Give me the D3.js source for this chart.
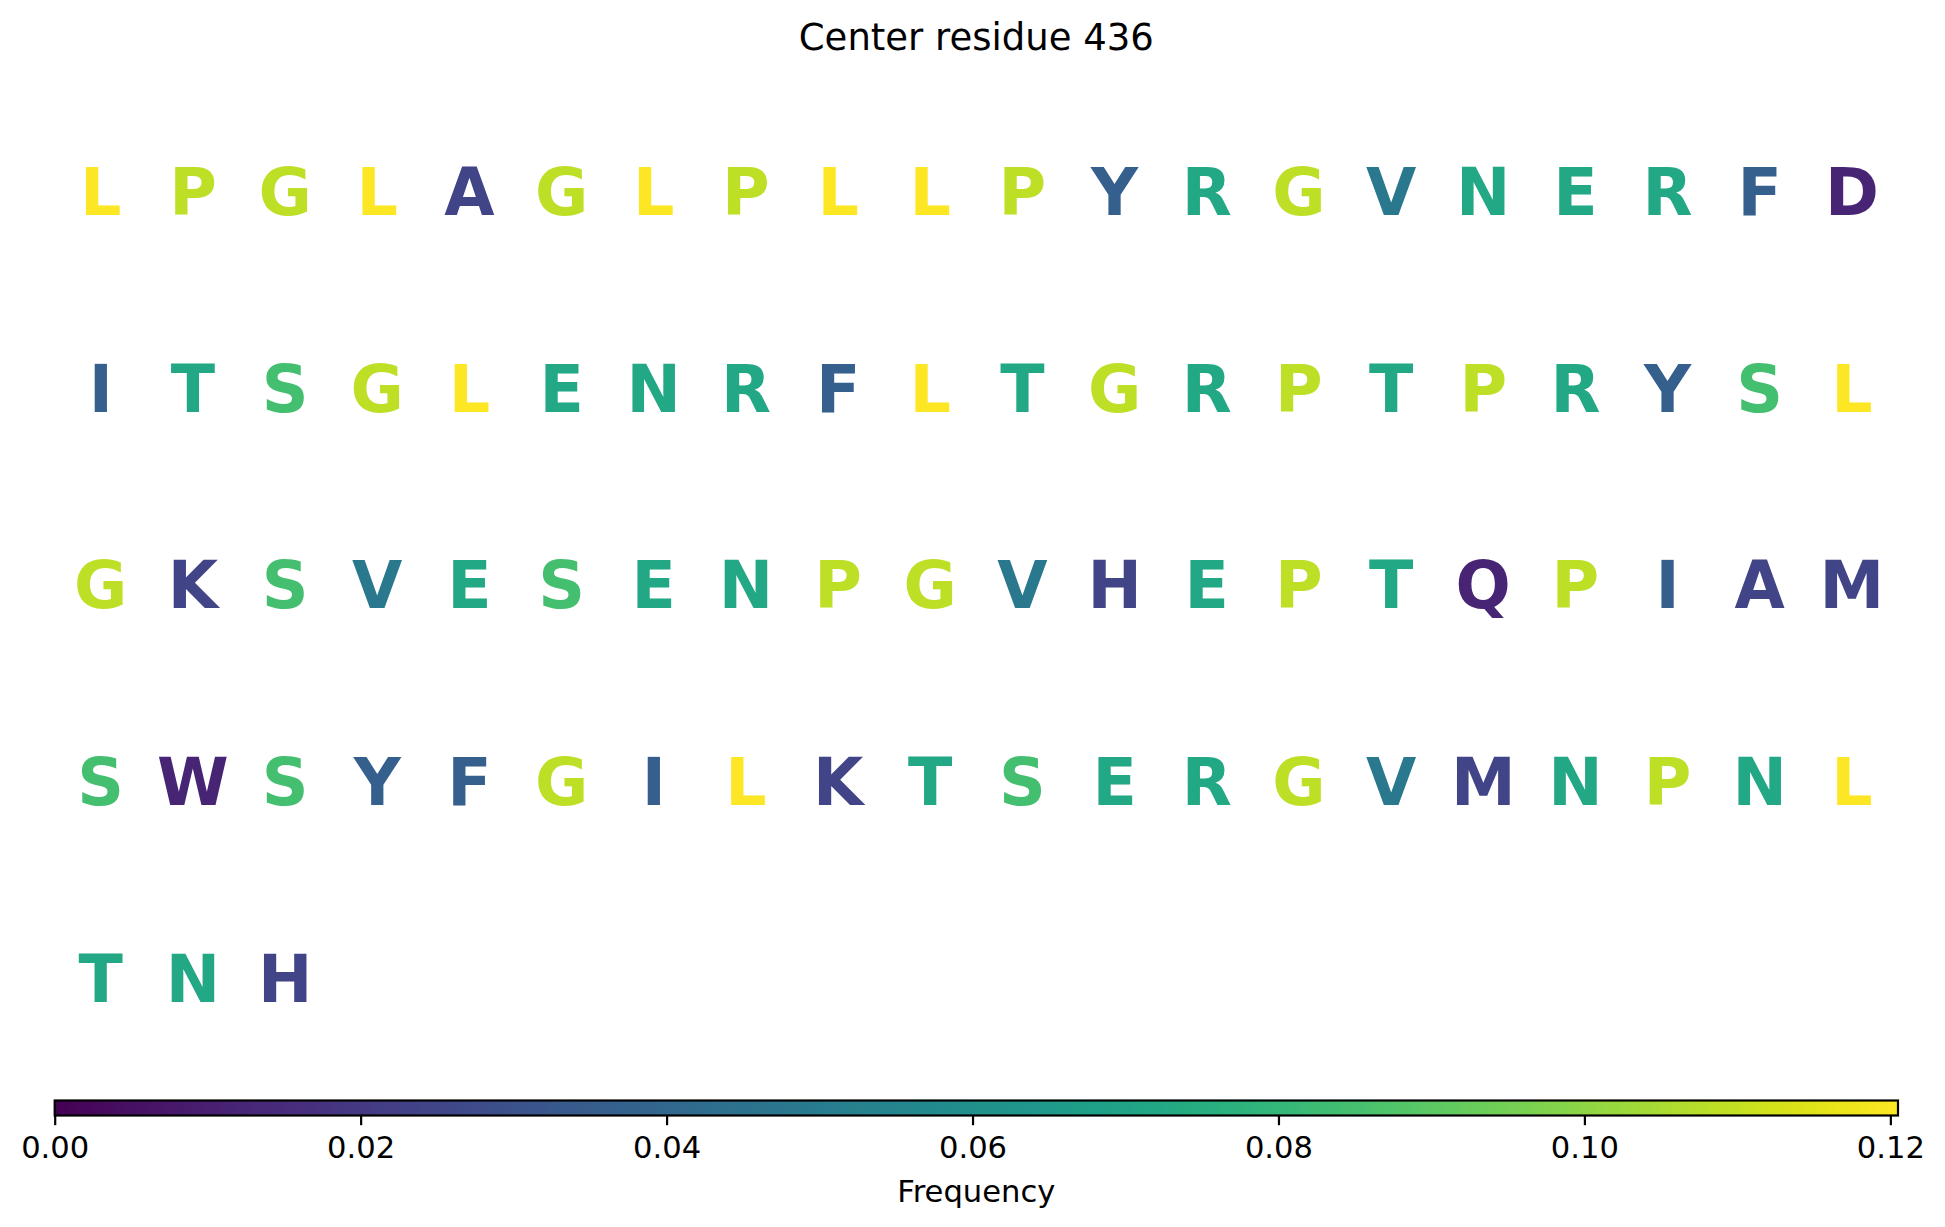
<!DOCTYPE html>
<html>
<head>
<meta charset="utf-8">
<script src="https://cdn.jsdelivr.net/npm/d3@7"></script>
<style>
  html, body { margin: 0; padding: 0; background: #fff; }
  svg { display: block; }
  text { font-family: "DejaVu Sans", sans-serif; }
</style>
</head>
<body>
<script>
// ---- Data ----
const titleText = "Center residue 436";
const residueRows = [
  ["L","P","G","L","A","G","L","P","L","L","P","Y","R","G","V","N","E","R","F","D"],
  ["I","T","S","G","L","E","N","R","F","L","T","G","R","P","T","P","R","Y","S","L"],
  ["G","K","S","V","E","S","E","N","P","G","V","H","E","P","T","Q","P","I","A","M"],
  ["S","W","S","Y","F","G","I","L","K","T","S","E","R","G","V","M","N","P","N","L"],
  ["T","N","H"]
];
const aminoAcids  = ["L", "P", "G", "A", "Y", "R", "V", "N", "E", "F", "D", "I", "T", "S", "K", "H", "Q", "M", "W"];
const frequencies = [0.1205, 0.1084, 0.1084, 0.0241, 0.0361, 0.0723, 0.0482, 0.0723, 0.0723, 0.0361, 0.0120, 0.0361, 0.0723, 0.0843, 0.0241, 0.0241, 0.0120, 0.0241, 0.0120];
const colorbarTicks = [0.00, 0.02, 0.04, 0.06, 0.08, 0.10, 0.12];
const colorbarMax = 0.1205;
const colorbarLabel = "Frequency";

// ---- Layout ----
const W = 1945, H = 1227;
const axLeft = 54.7, axRight = 1898, axTop = 93, rowStep = 196.7;
const nCols = 20, nRows = 5;
const letterSize = 65;
const cbTop = 1100.5, cbH = 15;

const freqOf = new Map(aminoAcids.map((a, i) => [a, frequencies[i]]));
const color = d3.scaleSequential(d3.interpolateViridis).domain([0, colorbarMax]);

const svg = d3.select("body").append("svg").attr("width", W).attr("height", H);

// Title
svg.append("text")
  .attr("x", (axLeft + axRight) / 2).attr("y", 49.5)
  .attr("text-anchor", "middle")
  .attr("font-size", 37)
  .attr("fill", "#000")
  .text(titleText);

// Letter grid
const x = d3.scaleBand().domain(d3.range(nCols)).range([axLeft, axRight]);
const y = d3.scaleBand().domain(d3.range(nRows)).range([axTop, axTop + rowStep * nRows]);

const cells = residueRows.flatMap((row, r) => row.map((aa, c) => ({ aa, r, c })));
svg.append("g").selectAll("text").data(cells).join("text")
  .attr("x", d => x(d.c) + x.bandwidth() / 2)
  .attr("y", d => y(d.r) + y.bandwidth() / 2 + 0.729 * letterSize / 2)
  .attr("text-anchor", "middle")
  .attr("font-size", letterSize)
  .attr("font-weight", "bold")
  .attr("fill", d => color(freqOf.get(d.aa)))
  .text(d => d.aa);

// Colorbar
const cbScale = d3.scaleLinear().domain([0, colorbarMax]).range([axLeft, axRight]);
const defs = svg.append("defs");
const grad = defs.append("linearGradient").attr("id", "viridisGrad")
  .attr("x1", "0%").attr("x2", "100%").attr("y1", "0%").attr("y2", "0%");
grad.selectAll("stop").data(d3.range(0, 1.0001, 0.01)).join("stop")
  .attr("offset", d => (d * 100) + "%")
  .attr("stop-color", d => d3.interpolateViridis(d));

svg.append("rect")
  .attr("x", axLeft).attr("y", cbTop)
  .attr("width", axRight - axLeft).attr("height", cbH)
  .attr("fill", "url(#viridisGrad)")
  .attr("stroke", "#000").attr("stroke-width", 2.2);

const axis = d3.axisBottom(cbScale)
  .tickValues(colorbarTicks)
  .tickFormat(d3.format(".2f"))
  .tickSize(9.7)
  .tickPadding(11.5)
  .tickSizeOuter(0);
const gAxis = svg.append("g").attr("transform", `translate(0,${cbTop + cbH})`).call(axis);
gAxis.select(".domain").remove();
gAxis.selectAll(".tick line").attr("stroke", "#000").attr("stroke-width", 2.2);
gAxis.selectAll(".tick text")
  .attr("font-size", 30.6)
  .attr("font-family", "DejaVu Sans, sans-serif")
  .attr("fill", "#000");

svg.append("text")
  .attr("x", (axLeft + axRight) / 2).attr("y", 1201.7)
  .attr("text-anchor", "middle")
  .attr("font-size", 30.6)
  .attr("fill", "#000")
  .text(colorbarLabel);
</script>
</body>
</html>
